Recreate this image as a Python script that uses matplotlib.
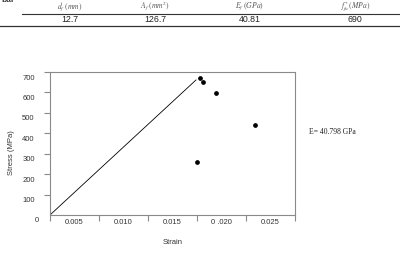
import matplotlib
matplotlib.use("Agg")
import matplotlib.pyplot as plt
from matplotlib.transforms import ScaledTranslation

plt.rcParams['font.family'] = ['Liberation Sans', 'DejaVu Sans']
plt.rcParams['mathtext.fontset'] = 'stix'

# table at top
headers = [r'$d_f\ (mm)$', r'$A_f\ (mm^2)$', r'$E_f\ (GPa)$', r'$f^*_{fu}(MPa)$']
values = ['12.7', '126.7', '40.81', '690']
col_x = [70, 155, 250, 355]

# test points (strain, stress MPa)
strain = [0.0153, 0.0156, 0.0169, 0.0209, 0.0150]
stress = [669, 651, 599, 441, 261]
# elastic line
line_strain = [0.0, 0.0149]
line_stress = [0.0, 661]

xticks = [0.0, 0.005, 0.010, 0.015, 0.020, 0.025]
xlabel_pos = [0.0025, 0.0075, 0.0125, 0.0175, 0.0225]
xlabels = ['0.005', '0.010', '0.015', '0 .020', '0.025']
yticks = [100, 200, 300, 400, 500, 600, 700]

W, H = 400, 257
fig = plt.figure(figsize=(W / 100, H / 100), dpi=100)

def fx(px):
    return px / W

def fy(py):
    return 1 - py / H

# table (the "bar" caption is cut by the top edge, as in the original)
fig.text(fx(1), fy(0), 'bar', fontsize=6, fontweight='bold', va='center', ha='left', color='#333333')
for x, h, v in zip(col_x, headers, values):
    fig.text(fx(x), fy(6.3), h, fontsize=5.5, ha='center', va='center', color='#555555')
    fig.text(fx(x), fy(20), v, fontsize=6.3, ha='center', va='center', color='#222222')
fig.add_artist(plt.Line2D([fx(22), 1], [fy(14), fy(14)], color='#333333', lw=0.8))
fig.add_artist(plt.Line2D([0, 1], [fy(25.5), fy(25.5)], color='#333333', lw=0.9))

# chart
ax = fig.add_axes([fx(50), fy(215), (295 - 50) / W, (215 - 72) / H])
ax.plot(line_strain, line_stress, color='black', lw=0.6)
ax.plot(strain, stress, 'o', color='black', markersize=2.4)
ax.set_xlim(0, 0.025)
ax.set_ylim(0, 700)

for s in ax.spines.values():
    s.set_color('#8a8a8a')
    s.set_linewidth(0.8)

ax.set_xticks(xticks)
ax.set_xticklabels([])
ax.set_xticks(xlabel_pos, minor=True)
ax.set_xticklabels(xlabels, minor=True, fontsize=5.5, color='#333333')
ax.tick_params(axis='x', which='major', direction='out', length=4, width=0.8, color='#8a8a8a')
ax.tick_params(axis='x', which='minor', length=0, pad=3)

ax.set_yticks(yticks)
ax.set_yticklabels([str(v) for v in yticks], fontsize=5.5, color='#333333')
ax.tick_params(axis='y', direction='out', length=4, width=0.8, color='#8a8a8a', pad=7)
shift = ScaledTranslation(0, -5 / 100, fig.dpi_scale_trans)
for lab in ax.get_yticklabels():
    lab.set_transform(lab.get_transform() + shift)

fig.text(fx(37), fy(221), '0', fontsize=5.5, ha='center', va='center', color='#333333')
fig.text(fx(12), fy(153), 'Stress (MPa)', fontsize=5.5, rotation=90, ha='center', va='center', color='#333333')
fig.text(fx(173), fy(242), 'Strain', fontsize=5.5, ha='center', va='center', color='#333333')
fig.text(fx(309), fy(132), 'E= 40.798 GPa', fontsize=5.5, family='Liberation Serif', ha='left', va='center', color='#222222')

fig.savefig('out.png', dpi=100)
